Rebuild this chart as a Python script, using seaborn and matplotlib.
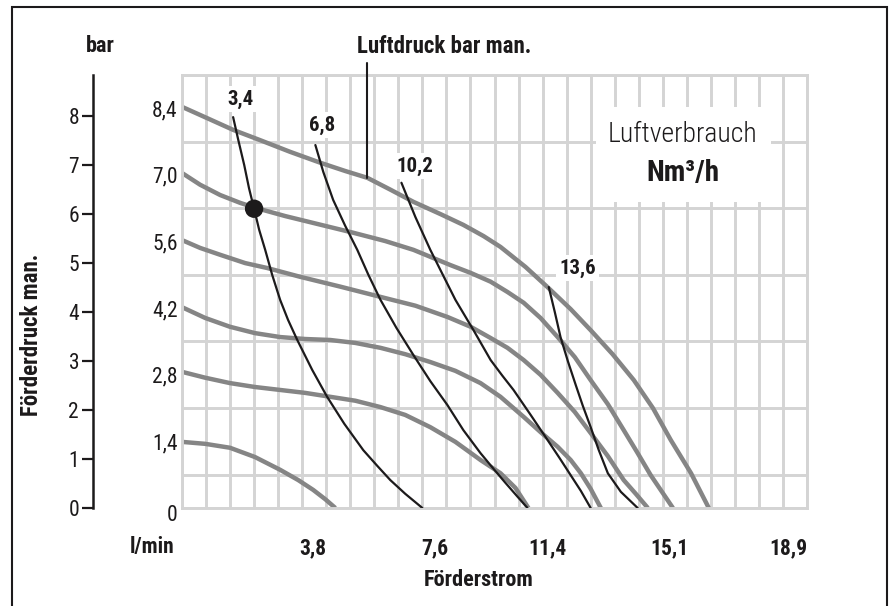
"""Pump performance chart: Förderdruck vs Förderstrom with air pressure / air consumption curves."""

import matplotlib

matplotlib.use("Agg")
import matplotlib.pyplot as plt
import numpy as np
import seaborn as sns
from matplotlib.patches import Rectangle

# gray curves: Luftdruck (bar man.), x = l/min, y = bar
AIR_LABELS = ["8,4", "7,0", "5,6", "4,2", "2,8", "1,4"]
AIR_84_X = [0.00, 0.79, 1.61, 2.46, 3.41, 4.35, 5.14, 5.84, 6.56, 7.29, 8.14, 8.86, 9.50,
            10.03, 10.82, 11.51, 12.24, 12.87, 13.56, 14.23, 14.83, 15.39, 16.03, 16.59]
AIR_84_Y = [8.19, 7.96, 7.72, 7.51, 7.27, 7.05, 6.88, 6.74, 6.50, 6.25, 6.00, 5.78, 5.55,
            5.33, 4.92, 4.51, 4.06, 3.63, 3.14, 2.61, 2.04, 1.39, 0.71, 0.00]
AIR_70_X = [0.00, 0.57, 1.20, 1.83, 2.30, 3.25, 4.13, 5.39, 6.40, 7.29, 8.45, 9.09, 9.72,
            10.25, 10.76, 11.29, 11.83, 12.37, 12.87, 13.41, 13.91, 14.35, 14.76, 15.46]
AIR_70_Y = [6.84, 6.60, 6.39, 6.23, 6.13, 5.96, 5.82, 5.62, 5.45, 5.27, 4.96, 4.80, 4.62,
            4.41, 4.19, 3.88, 3.49, 3.08, 2.61, 2.12, 1.59, 1.12, 0.67, 0.00]
AIR_56_X = [0.00, 0.57, 1.20, 1.99, 2.68, 3.72, 4.98, 6.25, 7.35, 8.36, 9.09, 9.72, 10.25,
            10.76, 11.29, 11.83, 12.37, 12.87, 13.41, 13.91, 14.29, 14.67]
AIR_56_Y = [5.47, 5.31, 5.17, 5.00, 4.90, 4.72, 4.52, 4.31, 4.13, 3.90, 3.70, 3.47, 3.27,
            3.02, 2.72, 2.35, 1.96, 1.53, 1.06, 0.57, 0.29, 0.00]
AIR_42_X = [0.00, 0.73, 1.51, 2.30, 3.09, 3.88, 4.67, 5.46, 6.25, 7.03, 7.82, 8.61, 9.40,
            10.03, 10.76, 11.29, 11.83, 12.24, 12.56, 12.87, 13.19]
AIR_42_Y = [4.10, 3.88, 3.70, 3.57, 3.49, 3.45, 3.43, 3.37, 3.27, 3.14, 2.98, 2.80, 2.55,
            2.27, 1.86, 1.55, 1.25, 0.98, 0.71, 0.39, 0.00]
AIR_28_X = [0.00, 0.73, 1.51, 2.30, 3.09, 3.88, 4.67, 5.46, 6.25, 7.03, 7.82, 8.61, 9.40,
            10.03, 10.50, 10.91]
AIR_28_Y = [2.78, 2.66, 2.55, 2.47, 2.41, 2.35, 2.27, 2.19, 2.06, 1.90, 1.65, 1.35, 0.98,
            0.71, 0.41, 0.00]
AIR_14_X = [0.00, 0.73, 1.51, 2.30, 3.09, 3.66, 4.13, 4.51, 4.83]
AIR_14_Y = [1.35, 1.31, 1.23, 1.04, 0.78, 0.57, 0.37, 0.18, 0.00]

# black curves: Luftverbrauch (Nm³/h)
CONS_LABELS = ["3,4", "6,8", "10,2", "13,6"]
CONS_34_X = [1.61, 1.77, 1.96, 2.11, 2.27, 2.43, 2.62, 2.84, 3.09, 3.34, 3.63, 4.10, 4.57,
             5.11, 5.71, 6.15, 6.56, 7.03, 7.57]
CONS_34_Y = [7.98, 7.52, 7.00, 6.53, 6.11, 5.68, 5.27, 4.76, 4.25, 3.84, 3.43, 2.82, 2.27,
             1.72, 1.18, 0.86, 0.57, 0.29, 0.00]
CONS_68_X = [4.20, 4.45, 4.76, 5.14, 5.52, 5.87, 6.25, 6.75, 7.29, 7.82, 8.36, 8.86, 9.40,
             9.81, 10.19, 10.54, 10.88]
CONS_68_Y = [7.41, 6.86, 6.29, 5.76, 5.27, 4.76, 4.25, 3.68, 3.12, 2.59, 2.10, 1.59, 1.12,
             0.80, 0.51, 0.25, 0.00]
CONS_102_X = [6.91, 7.35, 7.82, 8.23, 8.61, 9.18, 9.72, 10.09, 10.44, 10.98, 11.51, 11.89,
              12.24, 12.56, 12.87]
CONS_102_Y = [6.64, 5.94, 5.27, 4.74, 4.25, 3.63, 3.02, 2.70, 2.41, 1.90, 1.39, 1.02,
              0.67, 0.35, 0.00]
CONS_136_X = [11.55, 11.74, 11.92, 12.15, 12.40, 12.62, 12.87, 13.12, 13.41, 13.82, 14.35]
CONS_136_Y = [4.51, 4.00, 3.49, 3.00, 2.51, 2.09, 1.65, 1.19, 0.71, 0.33, 0.00]

# operating point
POINT_X, POINT_Y = 2.27, 6.11

X_TICK_LABELS = ["3,8", "7,6", "11,4", "15,1", "18,9"]
BAR_TICKS = [0, 1, 2, 3, 4, 5, 6, 7, 8]

GRID_X = 0.757  # l/min per grid cell
GRID_Y = 0.68  # bar per grid cell
GRID_COLOR = "#d4d4d4"
GRAY = "#858585"
BLACK = "#1c1a1b"

sns.set_theme(style="white")
plt.rcParams["font.family"] = ["Roboto Condensed", "DejaVu Sans"]
plt.rcParams["text.color"] = BLACK

fig = plt.figure(figsize=(8.92, 6.06), dpi=100)
ax = fig.add_axes([182 / 892, 1 - 508 / 606, 625 / 892, 433 / 606])
ax.set_xlim(0, 26 * GRID_X)
ax.set_ylim(0, 13 * GRID_Y)

# grid
ax.set_xticks(np.arange(27) * GRID_X, minor=True)
ax.set_yticks(np.arange(14) * GRID_Y, minor=True)
ax.grid(False, which="major")
ax.grid(True, which="minor", color=GRID_COLOR, lw=2.1)
ax.set_axisbelow(True)
for sp in ax.spines.values():
    sp.set_color(GRID_COLOR)
    sp.set_linewidth(2.1)
ax.tick_params(which="minor", length=0)

# inner labels for air pressure levels
ax.set_yticks(np.arange(1, 7)[::-1] * 2 * GRID_Y, AIR_LABELS, fontsize=15.5)
ax.tick_params(axis="y", which="major", length=0, pad=3, labelcolor=BLACK)
ax.text(-0.14, -0.15, "0", ha="right", va="center", fontsize=15.5)

# x labels
ax.set_xticks([4.13, 7.95, 11.5, 15.36, 19.08], X_TICK_LABELS, fontsize=15.5, fontweight="bold")
ax.tick_params(axis="x", which="major", length=0, pad=21, labelcolor=BLACK)
ax.text(-0.95, -0.80, "l/min", ha="center", va="center", fontsize=15.5, fontweight="bold")
fig.text(479 / 892, 1 - 580 / 606, "Förderstrom", ha="center", va="center",
         fontsize=16, fontweight="bold")

# left bar axis
sec = ax.secondary_yaxis((93 - 182) / 625)
sec.set_yticks(BAR_TICKS)
sec.tick_params(direction="out", length=8, width=1.6, pad=2, labelsize=15.5, colors=BLACK)
sec.spines["left"].set_color(BLACK)
sec.spines["left"].set_linewidth(1.8)
fig.text(100 / 892, 1 - 46 / 606, "bar", ha="center", va="center", fontsize=16, fontweight="bold")
fig.text(31 / 892, 1 - 335 / 606, "Förderdruck man.", ha="center", va="center",
         rotation=90, fontsize=16.5, fontweight="bold")

air_curves = [(AIR_84_X, AIR_84_Y), (AIR_70_X, AIR_70_Y), (AIR_56_X, AIR_56_Y),
              (AIR_42_X, AIR_42_Y), (AIR_28_X, AIR_28_Y), (AIR_14_X, AIR_14_Y)]
for xs, ys in air_curves:
    sns.lineplot(x=xs, y=ys, ax=ax, color=GRAY, lw=3.2, sort=False, estimator=None,
                 solid_capstyle="butt", solid_joinstyle="round", zorder=2)

cons_curves = [(CONS_34_X, CONS_34_Y), (CONS_68_X, CONS_68_Y),
               (CONS_102_X, CONS_102_Y), (CONS_136_X, CONS_136_Y)]
label_offsets = [(0.22, 0.37), (0.22, 0.41), (0.41, 0.34), (0.91, 0.39)]
for (xs, ys), lab, (dx, dy) in zip(cons_curves, CONS_LABELS, label_offsets):
    sns.lineplot(x=xs, y=ys, ax=ax, color=BLACK, lw=1.6, sort=False, estimator=None,
                 solid_joinstyle="round", zorder=3)
    ax.text(xs[0] + dx, ys[0] + dy, lab, ha="center", va="center", fontsize=15,
            fontweight="bold", zorder=4,
            bbox=dict(boxstyle="square,pad=0.15", fc="white", ec="none"))

ax.scatter([POINT_X], [POINT_Y], s=175, color=BLACK, zorder=5, edgecolor="none")

# Luftdruck leader
ax.plot([5.84, 5.84], [AIR_84_Y[7], 9.09], color=BLACK, lw=1.5, clip_on=False, zorder=3)
ax.text(8.26, 9.43, "Luftdruck bar man.", ha="center", va="center", fontsize=16.5,
        fontweight="bold", clip_on=False)

# Luftverbrauch box
ax.add_patch(Rectangle((13.03, 6.25), 5.52, 1.94, fc="white", ec="none", zorder=3))
ax.text(15.77, 7.62, "Luftverbrauch", ha="center", va="center", fontsize=20,
        fontweight="light", zorder=4)
ax.text(15.77, 6.84, "Nm³/h", ha="center", va="center", fontsize=21, fontweight="bold", zorder=4)

# outer frame
fig.patches.append(Rectangle((12 / 892, -0.1), 875 / 892, 1.1 - 7 / 606, transform=fig.transFigure,
                             fill=False, ec=BLACK, lw=1.5))

fig.savefig("out.png", dpi=100)
